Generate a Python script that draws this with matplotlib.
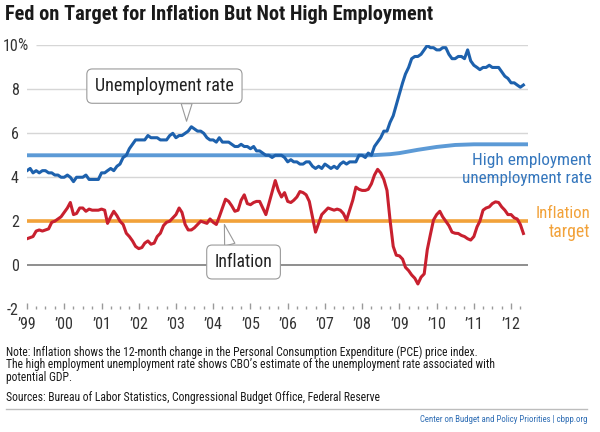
import numpy as np
import pandas as pd
import matplotlib
matplotlib.use('Agg')
import matplotlib.pyplot as plt
import matplotlib.dates as mdates
import matplotlib.transforms as mtransforms
from matplotlib.lines import Line2D
from matplotlib import font_manager

# look for a narrow face, the original uses a condensed font
names = {f.name for f in font_manager.fontManager.ttflist}
candidates = ['Liberation Sans Narrow', 'Roboto Condensed', 'Open Sans Condensed',
              'DejaVu Sans Condensed', 'Noto Sans Condensed', 'Arial Narrow']
found = [c for c in candidates if c in names]
plt.rcParams['font.family'] = found + ['DejaVu Sans']
plt.rcParams['font.stretch'] = 'condensed'

# monthly data, Jan 1999 - May 2012
months = pd.date_range('1999-01-01', '2012-05-01', freq='MS')

unemployment = [
    4.3, 4.4, 4.2, 4.3, 4.2, 4.3, 4.3, 4.2, 4.2, 4.1, 4.1, 4.0,   # 1999
    4.0, 4.1, 4.0, 3.8, 4.0, 4.0, 4.0, 4.1, 3.9, 3.9, 3.9, 3.9,   # 2000
    4.2, 4.2, 4.3, 4.4, 4.3, 4.5, 4.6, 4.9, 5.0, 5.3, 5.5, 5.7,   # 2001
    5.7, 5.7, 5.7, 5.9, 5.8, 5.8, 5.8, 5.7, 5.7, 5.7, 5.9, 6.0,   # 2002
    5.8, 5.9, 5.9, 6.0, 6.1, 6.3, 6.2, 6.1, 6.1, 6.0, 5.8, 5.7,   # 2003
    5.7, 5.6, 5.8, 5.6, 5.6, 5.6, 5.5, 5.4, 5.4, 5.5, 5.4, 5.4,   # 2004
    5.3, 5.4, 5.2, 5.2, 5.1, 5.0, 5.0, 4.9, 5.0, 5.0, 5.0, 4.9,   # 2005
    4.7, 4.8, 4.7, 4.7, 4.6, 4.6, 4.7, 4.7, 4.5, 4.4, 4.5, 4.4,   # 2006
    4.6, 4.5, 4.4, 4.5, 4.4, 4.6, 4.7, 4.6, 4.7, 4.7, 4.7, 5.0,   # 2007
    5.0, 4.9, 5.1, 5.0, 5.4, 5.6, 5.8, 6.1, 6.1, 6.5, 6.8, 7.3,   # 2008
    7.8, 8.3, 8.7, 9.0, 9.4, 9.5, 9.5, 9.6, 9.8, 10.0, 9.9, 9.9,  # 2009
    9.8, 9.8, 9.9, 9.9, 9.6, 9.4, 9.4, 9.5, 9.5, 9.4, 9.8, 9.3,   # 2010
    9.1, 9.0, 8.9, 9.0, 9.0, 9.1, 9.0, 9.0, 9.0, 8.8, 8.6, 8.5,   # 2011
    8.3, 8.3, 8.2, 8.1, 8.2,                                      # 2012
]

inflation = [
    1.2, 1.25, 1.3, 1.55, 1.6, 1.55, 1.6, 1.65, 1.95, 2.0, 2.1, 2.2,     # 1999
    2.4, 2.6, 2.85, 2.3, 2.35, 2.6, 2.6, 2.45, 2.55, 2.5, 2.5, 2.5,      # 2000
    2.55, 2.5, 1.9, 2.2, 2.45, 2.25, 2.0, 1.85, 1.45, 1.3, 1.1, 0.85,    # 2001
    0.75, 0.8, 1.0, 1.1, 0.95, 1.0, 1.3, 1.45, 1.8, 1.95, 2.0, 2.15,     # 2002
    2.3, 2.6, 2.4, 1.85, 1.6, 1.6, 1.7, 1.85, 2.0, 1.95, 1.9, 2.1,       # 2003
    1.95, 1.85, 2.2, 2.6, 3.0, 2.9, 2.7, 2.45, 2.5, 2.95, 3.2, 2.8,      # 2004
    2.75, 2.85, 2.9, 2.9, 2.6, 2.3, 2.8, 3.3, 3.85, 3.4, 3.1, 3.3,       # 2005
    2.9, 2.85, 2.95, 3.1, 3.35, 3.3, 3.2, 2.9, 2.2, 1.5, 1.9, 2.3,       # 2006
    2.45, 2.6, 2.55, 2.5, 2.55, 2.5, 2.35, 2.05, 2.5, 2.95, 3.55, 3.45,  # 2007
    3.4, 3.4, 3.45, 3.7, 4.1, 4.36, 4.2, 3.9, 3.4, 2.05, 0.85, 0.45,     # 2008
    0.42, 0.27, -0.1, -0.25, -0.45, -0.6, -0.86, -0.55, -0.4, 0.7, 1.4, 2.05,  # 2009
    2.3, 2.45, 2.2, 2.0, 1.8, 1.5, 1.45, 1.44, 1.35, 1.3, 1.2, 1.14,     # 2010
    1.3, 1.74, 2.0, 2.5, 2.6, 2.65, 2.8, 2.88, 2.85, 2.65, 2.5, 2.3,     # 2011
    2.3, 2.15, 2.1, 1.85, 1.44,                                          # 2012
]

# CBO high employment (natural) unemployment rate
nairu_dates = pd.to_datetime(['1999-01-01', '2008-04-01', '2008-10-01', '2009-01-01',
                              '2009-07-01', '2010-01-01', '2010-07-01', '2011-01-01',
                              '2012-06-15'])
nairu = [5.0, 5.0, 5.05, 5.1, 5.25, 5.38, 5.47, 5.5, 5.5]

inflation_target = 2.0
year_labels = ["\u2019%02d" % (y % 100) for y in range(1999, 2013)]

blue = '#1d61ad'
light_blue = '#5c9ad6'
red = '#c8202f'
orange = '#f2a23a'

fig = plt.figure(figsize=(6, 4.32), dpi=100)
ax = fig.add_axes([0.045, 0.2847, 0.835, 0.61])

x0 = pd.Timestamp('1999-01-01')
x1 = pd.Timestamp('2012-06-15')
ax.set_xlim(x0, x1)
ax.set_ylim(-2, 10)

# grid
for g in [2, 4, 6, 8]:
    ax.axhline(g, color='#d6d6d6', lw=1, zorder=1)
ax.hlines(10, pd.Timestamp('1999-04-01'), x1, color='#d6d6d6', lw=1, zorder=1)
ax.axhline(0, color='#8e8e8e', lw=1.4, zorder=1)

ax.plot(nairu_dates, nairu, color=light_blue, lw=2.8, zorder=2, solid_capstyle='butt')
ax.axhline(inflation_target, color=orange, lw=2.6, zorder=2)
ax.plot(months, unemployment, color=blue, lw=2.2, zorder=3)
ax.plot(months, inflation, color=red, lw=2.2, zorder=3)

for s in ax.spines.values():
    s.set_visible(False)

ax.set_yticks([-2, 0, 2, 4, 6, 8, 10])
ax.set_yticklabels(['-2', '0', '2', '4', '6', '8', '10'])
ax.tick_params(axis='y', length=0, pad=6, labelsize=11.5, labelcolor='#333333')
fig.text(17.5 / 600, 1 - 45.5 / 432, '%', fontsize=11.5, color='#333333',
         va='center', ha='left')

ax.set_xticks(pd.date_range('1999-01-01', '2012-01-01', freq='YS'))
ax.set_xticklabels(year_labels)
ax.xaxis.set_minor_locator(mdates.MonthLocator(bymonth=[4, 7, 10]))
ax.tick_params(axis='x', which='major', direction='in', length=4, width=1, color='#9a9a9a',
               pad=6, labelsize=11.5, labelcolor='#333333')
ax.tick_params(axis='x', which='minor', direction='in', length=2, width=1, color='#9a9a9a')

box = dict(boxstyle='round,pad=0.45,rounding_size=0.3', fc='white', ec='#9a9a9a', lw=0.8)
ann_u = ax.annotate('Unemployment rate', xy=(pd.Timestamp('2003-04-15'), 6.55),
                    xytext=(pd.Timestamp('2002-09-10'), 8.15), ha='center', va='center',
                    fontsize=12, color='#222222', bbox=box, zorder=5,
                    arrowprops=dict(arrowstyle='wedge,tail_width=0.6', fc='white',
                                    ec='#9a9a9a', lw=0.8, relpos=(0.66, 0.0),
                                    shrinkA=0, shrinkB=0))
ann_i = ax.annotate('Inflation', xy=(pd.Timestamp('2004-04-20'), 1.85),
                    xytext=(pd.Timestamp('2004-10-25'), 0.14), ha='center', va='center',
                    fontsize=12, color='#222222', bbox=box, zorder=5,
                    arrowprops=dict(arrowstyle='wedge,tail_width=0.6', fc='white',
                                    ec='#9a9a9a', lw=0.8, relpos=(0.3, 1.0),
                                    shrinkA=0, shrinkB=0))

tr = mtransforms.blended_transform_factory(fig.transFigure, ax.transData)
hi1 = ax.text(592 / 600, 4.75, 'High employment', transform=tr, ha='right', va='center',
              fontsize=12, color='#3577bd')
hi2 = ax.text(592 / 600, 3.93, 'unemployment rate', transform=tr, ha='right', va='center',
              fontsize=12, color='#3577bd')
tg1 = ax.text(590 / 600, 2.34, 'Inflation', transform=tr, ha='right', va='center',
              fontsize=12, color=orange)
tg2 = ax.text(590 / 600, 1.52, 'target', transform=tr, ha='right', va='center',
              fontsize=12, color=orange)

title = fig.text(5 / 600, 1 - 15 / 432, 'Fed on Target for Inflation But Not High Employment',
                 fontsize=14, fontweight='bold', color='#1a1a1a', va='center', ha='left')

notes = [
    'Note: Inflation shows the 12-month change in the Personal Consumption Expenditure (PCE) price index.',
    'The high employment unemployment rate shows CBO\u2019s estimate of the unemployment rate associated with',
    'potential GDP.',
]
fig.text(6 / 600, 1 - 345.5 / 432, '\n'.join(notes), fontsize=8.4, linespacing=0.94,
         color='#1a1a1a', va='top', ha='left')
fig.text(6 / 600, 1 - 398 / 432,
         'Sources: Bureau of Labor Statistics, Congressional Budget Office, Federal Reserve',
         fontsize=8.4, color='#1a1a1a', va='center', ha='left')
fig.add_artist(Line2D([6 / 600, 587 / 600], [1 - 409 / 432, 1 - 409 / 432],
                      color='#bdbdbd', lw=1))
cbpp = fig.text(587 / 600, 1 - 420 / 432, 'Center on Budget and Policy Priorities | cbpp.org',
                fontsize=8, color='#2e6db4', va='center', ha='right')

# scale some texts to the widths they have in the original
renderer = fig.canvas.get_renderer()
widths = [(title, 430), (cbpp, 168), (ann_u, 139), (ann_i, 58),
          (hi1, 119), (hi2, 129), (tg1, 55), (tg2, 41)]
for t, target in widths:
    w = t.get_window_extent(renderer).width
    t.set_fontsize(t.get_fontsize() * target / w)

fig.savefig('out.png', dpi=100)
